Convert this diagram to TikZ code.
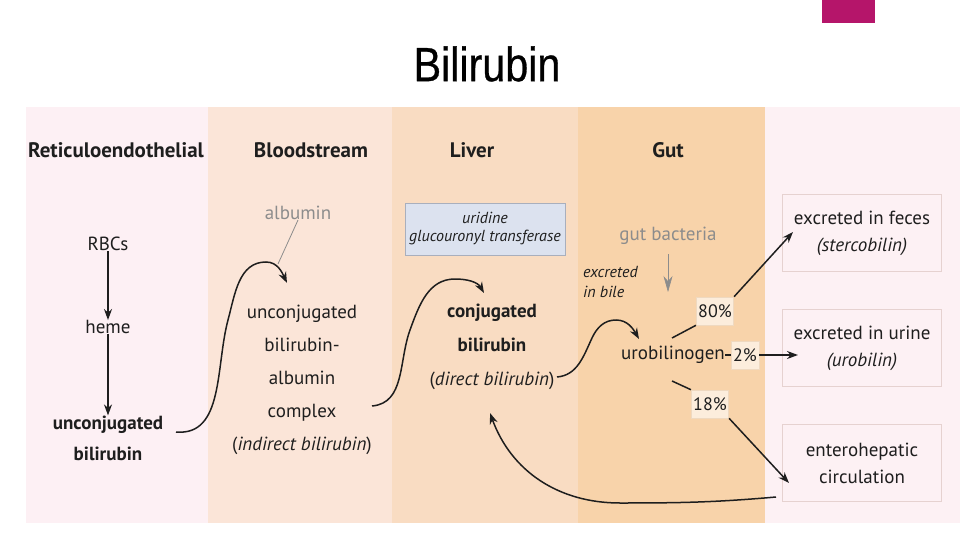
\documentclass[tikz,border=0pt]{standalone}
\usepackage{fontspec}
\setmainfont{PT Sans}
\newfontfamily\titlefont[FakeStretch=0.86,FakeBold=0.6]{Liberation Sans}
\usetikzlibrary{arrows.meta}
\definecolor{cRE}{HTML}{FDF0F4}
\definecolor{cBS}{HTML}{FBE5D8}
\definecolor{cLV}{HTML}{F9DCC2}
\definecolor{cGT}{HTML}{F8D3AA}
\definecolor{cRT}{HTML}{FDF1F4}
\definecolor{cMag}{HTML}{B5156A}
\definecolor{cEnz}{HTML}{DCE2EF}
\definecolor{cEnzB}{HTML}{A9AFBD}
\definecolor{cPct}{HTML}{FCEDDC}
\definecolor{cPctB}{HTML}{EFD9C0}
\definecolor{cBoxB}{HTML}{E6D2D0}
\definecolor{cTxt}{HTML}{1E1E1E}
\definecolor{cGray}{HTML}{8C8C8C}
\tikzset{
  hdr/.style={font=\fontsize{21}{24}\selectfont\bfseries, text=cTxt, inner sep=0pt},
  body/.style={font=\fontsize{19}{33}\selectfont, text=cTxt, align=center, inner sep=0pt},
  graytxt/.style={font=\fontsize{19}{22}\selectfont, text=cGray, inner sep=0pt},
  smallit/.style={font=\fontsize{16}{20}\selectfont\itshape, text=cTxt, align=left, inner sep=0pt},
  enzbox/.style={draw=cEnzB, fill=cEnz, line width=0.8pt, minimum width=160pt, minimum height=52pt, align=center, font=\fontsize{16}{18}\selectfont\itshape, text=cTxt, inner sep=0pt},
  pctbox/.style={draw=cPctB, fill=cPct, line width=0.6pt, font=\fontsize{18}{20}\selectfont, text=cTxt, inner sep=2pt, minimum height=28pt},
  outbox/.style={draw=cBoxB, fill=cRT, line width=0.8pt, minimum width=159pt, minimum height=77pt, align=center, font=\fontsize{19}{27}\selectfont, text=cTxt, inner sep=0pt},
  conn/.style={draw=cTxt, line width=1.5pt, -{Stealth[length=11pt,width=8pt]}},
  plain/.style={draw=cTxt, line width=1.5pt},
}
\begin{document}
\begin{tikzpicture}[x=1pt,y=-1pt]
\useasboundingbox (0,0) rectangle (960,540);
% panels
\fill[white] (0,0) rectangle (960,540);
\fill[cRE] (26,107) rectangle (208,523);
\fill[cBS] (208,107) rectangle (392,523);
\fill[cLV] (392,107) rectangle (578,523);
\fill[cGT] (578,107) rectangle (765,523);
\fill[cRT] (765,107) rectangle (960,523);
\fill[cMag] (822,0) rectangle (875,23);
% title
\node[font=\titlefont\fontsize{48}{50}\selectfont, inner sep=0pt] (title) at (487,64) {Bilirubin};
% headers
\node[hdr] (hRE) at (116,150) {Reticuloendothelial};
\node[hdr] (hBS) at (311,150) {Bloodstream};
\node[hdr] (hLV) at (472,150) {Liver};
\node[hdr] (hGT) at (668,150) {Gut};
% reticuloendothelial
\node[body] (rbc) at (108,244) {RBCs};
\node[body] (heme) at (108,327) {heme};
\node[body, font=\fontsize{19}{31}\selectfont\bfseries] (ub) at (108,438) {unconjugated\\bilirubin};
\draw[conn] (rbc.south) -- (heme.north);
\draw[conn] (heme.south) -- (ub.north);
% bloodstream
\node[graytxt] (alb) at (298,213) {albumin};
\node[body] (cx) at (302,380) {unconjugated\\bilirubin-\\albumin\\complex\\(\textit{indirect bilirubin})};
\coordinate (albend) at (278,264);
\draw[cGray, line width=0.8pt] (alb.south) -- (albend);
\coordinate (ubout) at (176,432);
\coordinate (cxin) at (287,283);
\draw[conn] (ubout) to[out=-5,in=-105] (228,320) to[out=75,in=180] (266,262) to[out=0,in=115] (cxin);
% liver
\node[enzbox] (enz) at (485,229) {uridine\\glucouronyl transferase};
\node[body, font=\fontsize{19}{34}\selectfont] (conj) at (492,347) {\textbf{conjugated}\\\textbf{bilirubin}\\(\textit{direct bilirubin})};
\coordinate (cxout) at (372,406);
\coordinate (conjin) at (484,293);
\draw[conn] (cxout) to[out=5,in=-110] (410,330) to[out=70,in=180] (455,279) to[out=0,in=120] (conjin);
% gut
\node[graytxt] (gb) at (668,236) {gut bacteria};
\coordinate (gbend) at (668,292);
\draw[cGray, line width=0.6pt, -{Stealth[length=16pt,width=9pt]}] (668,254) -- (gbend);
\node[smallit, anchor=west] (bile) at (583,282) {excreted\\in bile};
\node[body] (urob) at (673,355) {urobilinogen};
\coordinate (conjout) at (557,377);
\coordinate (urobin) at (639,339);
\draw[conn] (conjout) to[out=5,in=-115] (592,338) to[out=65,in=180] (616,320) to[out=0,in=120] (urobin);
\node[pctbox] (p80) at (715,311) {80\%};
\node[pctbox] (p2) at (745,355) {2\%};
\node[pctbox] (p18) at (710,404) {18\%};
\node[outbox] (fec) at (862,233) {excreted in feces\\\textit{(stercobilin)}};
\node[outbox] (uri) at (862,348) {excreted in urine\\\textit{(urobilin)}};
\node[outbox] (ent) at (862,463) {enterohepatic\\circulation};
\coordinate (u80) at (672,338);
\coordinate (u18) at (672,381);
\draw[plain] (u80) -- (p80.south west);
\draw[plain] (urob.east) -- (p2.west);
\draw[plain] (u18) -- (p18.north west);
\coordinate (fecin) at (793,232);
\coordinate (uriin) at (798,355);
\coordinate (entin) at (789,483);
\draw[conn] (p80.north east) -- (fecin);
\draw[conn] (p2.east) -- (uriin);
\draw[conn] (p18.south east) -- (entin);
\coordinate (entout) at (776,497);
\coordinate (conjback) at (490,413);
\draw[conn] (entout) to[out=185,in=0] (620,503) to[out=180,in=-70] (conjback);
\end{tikzpicture}
\end{document}
